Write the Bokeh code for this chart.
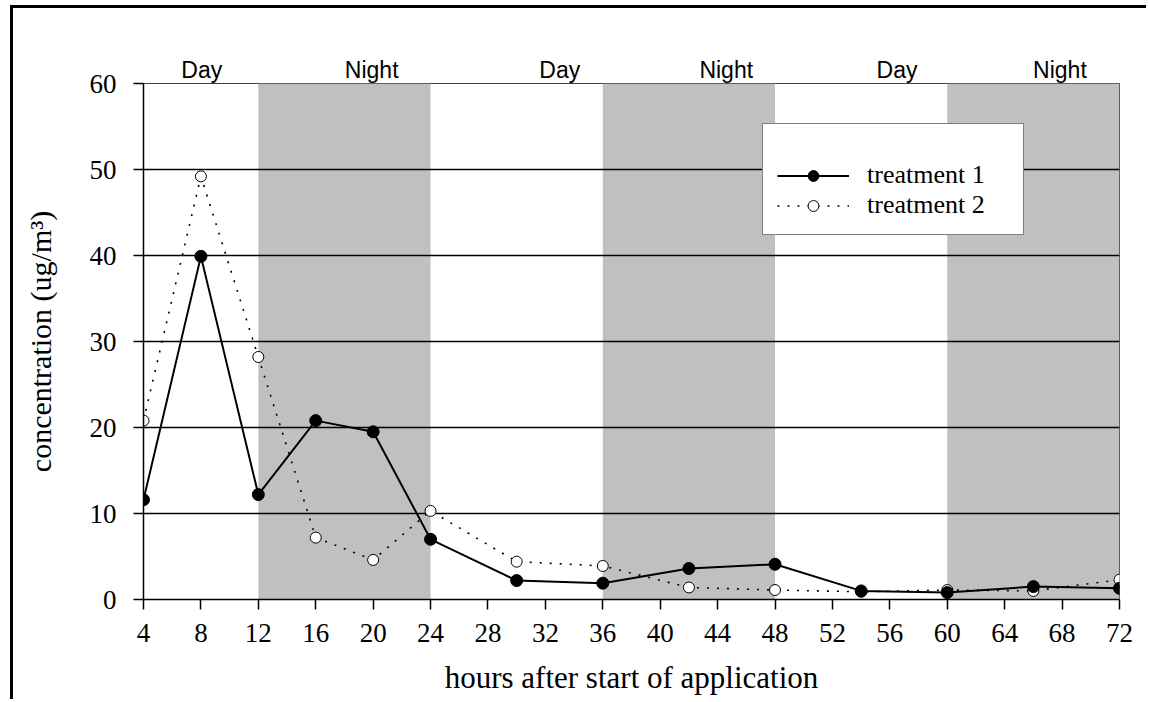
from bokeh.plotting import figure
from bokeh.models import (FixedTicker, ColumnDataSource, LinearAxis, Legend, LegendItem)
from bokeh.embed import file_html
from bokeh.resources import INLINE

# ---- data ----
hours = [4, 8, 12, 16, 20, 24, 30, 36, 42, 48, 54, 60, 66, 72]
treatment1 = [11.6, 39.9, 12.2, 20.8, 19.5, 7.0, 2.2, 1.9, 3.6, 4.1, 1.0, 0.8, 1.5, 1.3]
treatment2 = [20.8, 49.2, 28.2, 7.2, 4.6, 10.3, 4.4, 3.9, 1.4, 1.1, 0.9, 1.1, 1.0, 2.3]
night_start = [12, 36, 60]
night_end = [24, 48, 72]
period_names = ["Day", "Night", "Day", "Night", "Day", "Night"]
period_pos = [8.06, 19.9, 33.0, 44.6, 56.5, 67.85]
x_ticks = [4, 8, 12, 16, 20, 24, 28, 32, 36, 40, 44, 48, 52, 56, 60, 64, 68, 72]
y_ticks = [0, 10, 20, 30, 40, 50, 60]
y_grid = [10, 20, 30, 40, 50]

SERIF = "Liberation Serif"
SANS = "Liberation Sans"

W, H = 1136, 694
p = figure(width=W, height=H, x_range=(4, 72), y_range=(0, 60),
           output_backend="svg", toolbar_location=None,
           min_border_left=130, min_border_right=30,
           min_border_top=75, min_border_bottom=103)
p.styles = {"border-left": "3px solid black", "border-top": "3px solid black",
            "margin-top": "5px", "margin-left": "10px"}

p.background_fill_color = "white"
p.border_fill_color = "white"
p.outline_line_color = "#404040"
p.outline_line_width = 1

# night bands
p.quad(left=night_start, right=night_end, bottom=0, top=60,
       fill_color="#C0C0C0", line_color=None, level="image")

# grid
p.xgrid.visible = False
p.ygrid.ticker = FixedTicker(ticks=y_grid)
p.ygrid.grid_line_color = "black"
p.ygrid.grid_line_width = 1.5

# axes
xa = p.xaxis[0]
xa.ticker = FixedTicker(ticks=x_ticks)
xa.axis_line_color = "black"
xa.axis_line_width = 1.5
xa.major_tick_line_color = "black"
xa.major_tick_line_width = 1.5
xa.major_tick_in = 0
xa.major_tick_out = 10
xa.minor_tick_line_color = None
xa.major_label_text_font = SERIF
xa.major_label_text_font_size = "27px"
xa.major_label_text_color = "black"
xa.major_label_standoff = 14
xa.axis_label = "hours after start of application"
xa.axis_label_text_font = SERIF
xa.axis_label_text_font_size = "31px"
xa.axis_label_text_font_style = "normal"
xa.axis_label_text_color = "black"
xa.axis_label_standoff = 15

ya = p.yaxis[0]
ya.ticker = FixedTicker(ticks=y_ticks)
ya.axis_line_color = "black"
ya.axis_line_width = 1.5
ya.major_tick_line_color = "black"
ya.major_tick_line_width = 1.5
ya.major_tick_in = 0
ya.major_tick_out = 10
ya.minor_tick_line_color = None
ya.major_label_text_font = SERIF
ya.major_label_text_font_size = "27px"
ya.major_label_text_color = "black"
ya.major_label_standoff = 17
ya.axis_label = "concentration (ug/m³)"
ya.axis_label_text_font = SERIF
ya.axis_label_text_font_size = "30px"
ya.axis_label_text_font_style = "normal"
ya.axis_label_text_color = "black"
ya.axis_label_standoff = 30

# Day / Night labels as a tick-less axis above the plot
top_axis = LinearAxis(ticker=FixedTicker(ticks=period_pos),
                      major_label_overrides={v: t for v, t in zip(period_pos, period_names)},
                      axis_line_color=None, major_tick_line_color=None,
                      minor_tick_line_color=None, major_tick_out=0, major_tick_in=0,
                      major_label_standoff=1,
                      major_label_text_font=SANS, major_label_text_font_size="23px",
                      major_label_text_color="black")
p.add_layout(top_axis, "above")

# series
src = ColumnDataSource(dict(h=hours, t1=treatment1, t2=treatment2))
l2 = p.line("h", "t2", source=src, line_color="black", line_width=1.6, line_dash="2 8")
s2 = p.scatter("h", "t2", source=src, size=11, marker="circle",
               fill_color="white", line_color="black", line_width=1)
l1 = p.line("h", "t1", source=src, line_color="black", line_width=2)
s1 = p.scatter("h", "t1", source=src, size=12, marker="circle",
               fill_color="black", line_color="black", line_width=1)

legend = Legend(items=[LegendItem(label="treatment 1", renderers=[l1, s1]),
                       LegendItem(label="treatment 2", renderers=[l2, s2])],
                location=(619, 364), orientation="vertical",
                title=" ", title_text_font_size="17px", title_standoff=2,
                glyph_width=72, glyph_height=27, label_height=27, label_width=142,
                spacing=0, label_standoff=18, padding=14,
                label_text_font=SERIF, label_text_font_size="26px",
                label_text_color="black",
                border_line_color="black", border_line_width=1.5,
                background_fill_color="white", background_fill_alpha=1.0)
p.add_layout(legend, "center")

open("out.html", "w").write(file_html(p, INLINE))
